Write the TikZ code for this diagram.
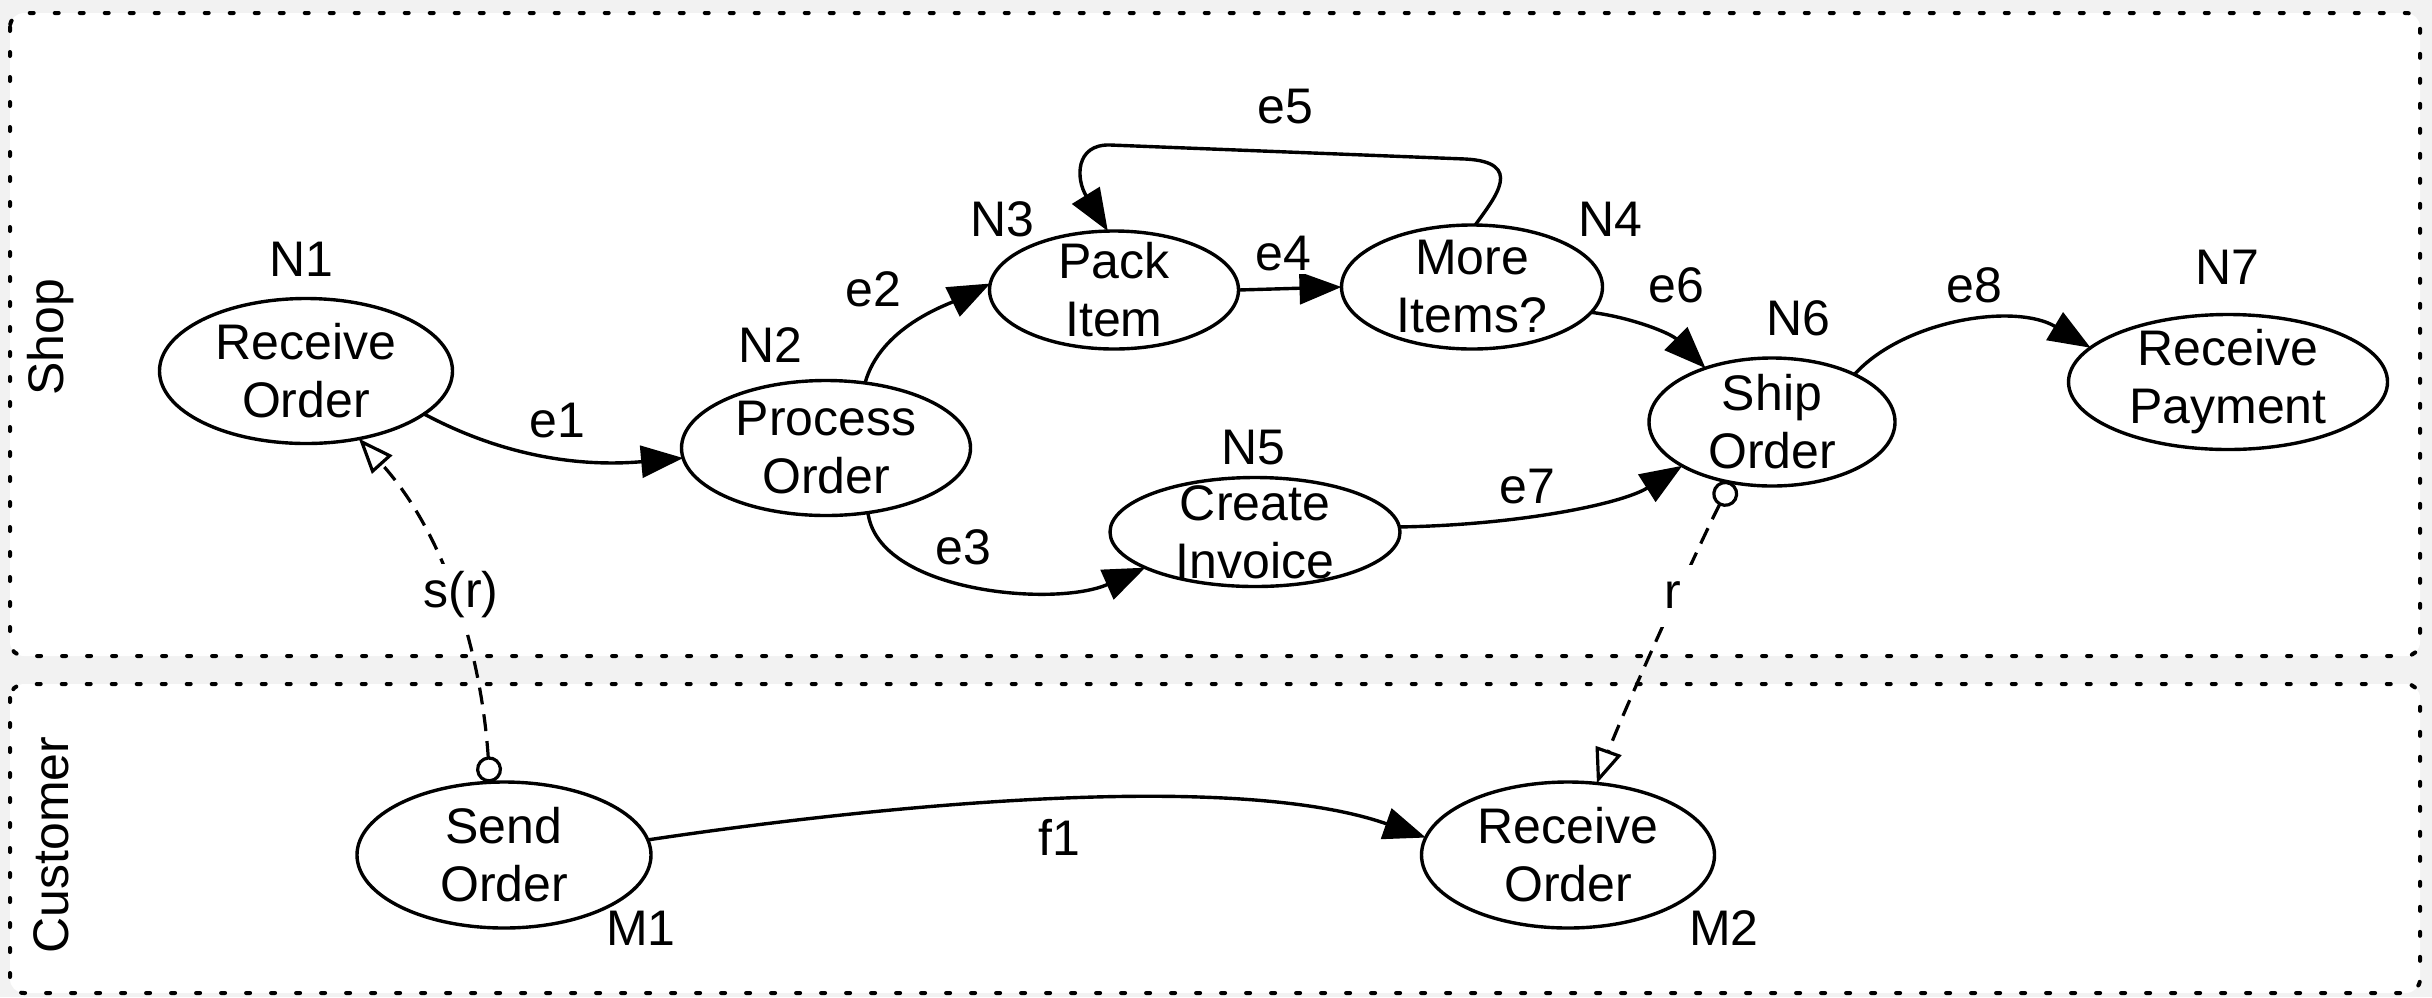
\documentclass[tikz,border=0pt]{standalone}
\usepackage{fontspec}
\setmainfont{Liberation Sans}
\usetikzlibrary{arrows.meta,shapes.geometric}
\definecolor{bggray}{RGB}{242,242,242}
\begin{document}
\begin{tikzpicture}[x=1pt,y=-1pt,
  every node/.style={font=\fontsize{50}{58}\selectfont},
  state/.style={ellipse,draw,line width=3.4pt,fill=white,align=center,inner sep=-12pt,outer sep=0pt},
  lane/.style={draw,fill=white,line width=4pt,line cap=round,dash pattern=on 4pt off 21pt,rounded corners=14pt},
  flow/.style={line width=3.4pt,-{Triangle[length=42pt,width=32pt]}},
  msg/.style={line width=3.2pt,dash pattern=on 17pt off 10pt,{Circle[fill=white,length=26pt,width=26pt]}-{Triangle[fill=white,length=35pt,width=27pt]}},
  elabel/.style={fill=white,inner sep=3pt},
  mlabel/.style={fill=white,inner ysep=2pt,inner xsep=12pt,anchor=base,execute at begin node=\strut},
  nlabel/.style={inner sep=0pt}]
\useasboundingbox (0,0) rectangle (2432,997);
\fill[bggray] (0,0) rectangle (2432,997);
\draw[lane] (10,13) rectangle (2420,656);
\draw[lane] (10,684) rectangle (2420,993);
\node[rotate=90] (shop) at (51,337) {Shop};
\node[rotate=90] (cust) at (51,845) {Customer};

% states
\node[state,minimum width=293pt,minimum height=145pt] (n1) at (306,371) {Receive\\Order};
\node[state,minimum width=289pt,minimum height=135pt] (n2) at (826,448) {Process\\Order};
\node[state,minimum width=249pt,minimum height=118pt] (n3) at (1114,290) {Pack\\Item};
\node[state,minimum width=261pt,minimum height=124pt] (n4) at (1472,287) {More\\Items?};
\node[state,minimum width=290pt,minimum height=109pt] (n5) at (1255,532) {Create\\Invoice};
\node[state,minimum width=246pt,minimum height=128pt] (n6) at (1772,422) {Ship\\Order};
\node[state,minimum width=319pt,minimum height=135pt] (n7) at (2228,382) {Receive\\Payment};
\node[state,minimum width=294pt,minimum height=146pt] (m1) at (504,855) {Send\\Order};
\node[state,minimum width=293pt,minimum height=146pt] (m2) at (1568,855) {Receive\\Order};

% state names
\node[nlabel] (ln1) at (301,259) {N1};
\node[nlabel] (ln2) at (770,345) {N2};
\node[nlabel] (ln3) at (1002,219) {N3};
\node[nlabel] (ln4) at (1610,219) {N4};
\node[nlabel] (ln5) at (1253,448) {N5};
\node[nlabel] (ln6) at (1798,318) {N6};
\node[nlabel] (ln7) at (2227,267) {N7};
\node[nlabel] (lm1) at (641,928) {M1};
\node[nlabel] (lm2) at (1724,928) {M2};

% flows
\draw[flow] (n1.-20) .. controls +(90,48) and +(-90,8) .. (n2.184);
\draw[flow] (n2.59) .. controls +(15,-55) and +(-45,22) .. (n3.177);
\draw[flow] (n2.-57) .. controls +(10,80) and +(-90,40) .. (n5.198);
\draw[flow] (n3.east) -- (n4.west);
\coordinate (e5a) at (1465,159);
\coordinate (e5b) at (1110,145);
\draw[flow] (n4.87) .. controls +(20,-28) and +(60,3) .. (e5a) -- (e5b) .. controls +(-35,-1) and +(-32,-52) .. (n3.96);
\draw[flow] (n4.-12) .. controls +(40,5) and +(-35,-35) .. (n6.141);
\draw[flow] (n5.2) .. controls +(120,-2) and +(-60,38) .. (n6.206);
\draw[flow] (n6.30) .. controls +(50,-55) and +(-75,-45) .. (n7.166);
\draw[flow] (m1.6) .. controls +(200,-30) and +(-200,-70) .. (m2.173);
\draw[msg] (m1.101) .. controls +(-8,-122) and +(90,100) .. (n1.-52);
\draw[msg] (n6.-124) .. controls +(-30,57) and +(22,-62) .. (m2.68);

% edge labels
\node[elabel] (le1) at (557,421) {e1};
\node[elabel] (le2) at (873,289) {e2};
\node[elabel] (le3) at (963,547) {e3};
\node[elabel] (le4) at (1283,254) {e4};
\node[elabel] (le5) at (1285,107) {e5};
\node[elabel] (le6) at (1676,285) {e6};
\node[elabel] (le7) at (1527,487) {e7};
\node[elabel] (le8) at (1974,285) {e8};
\node[elabel] (lf1) at (1059,837) {f1};
\node[mlabel] (lsr) at (461,607) {s(r)};
\node[mlabel] (lr) at (1673,608) {r};
\end{tikzpicture}
\end{document}
